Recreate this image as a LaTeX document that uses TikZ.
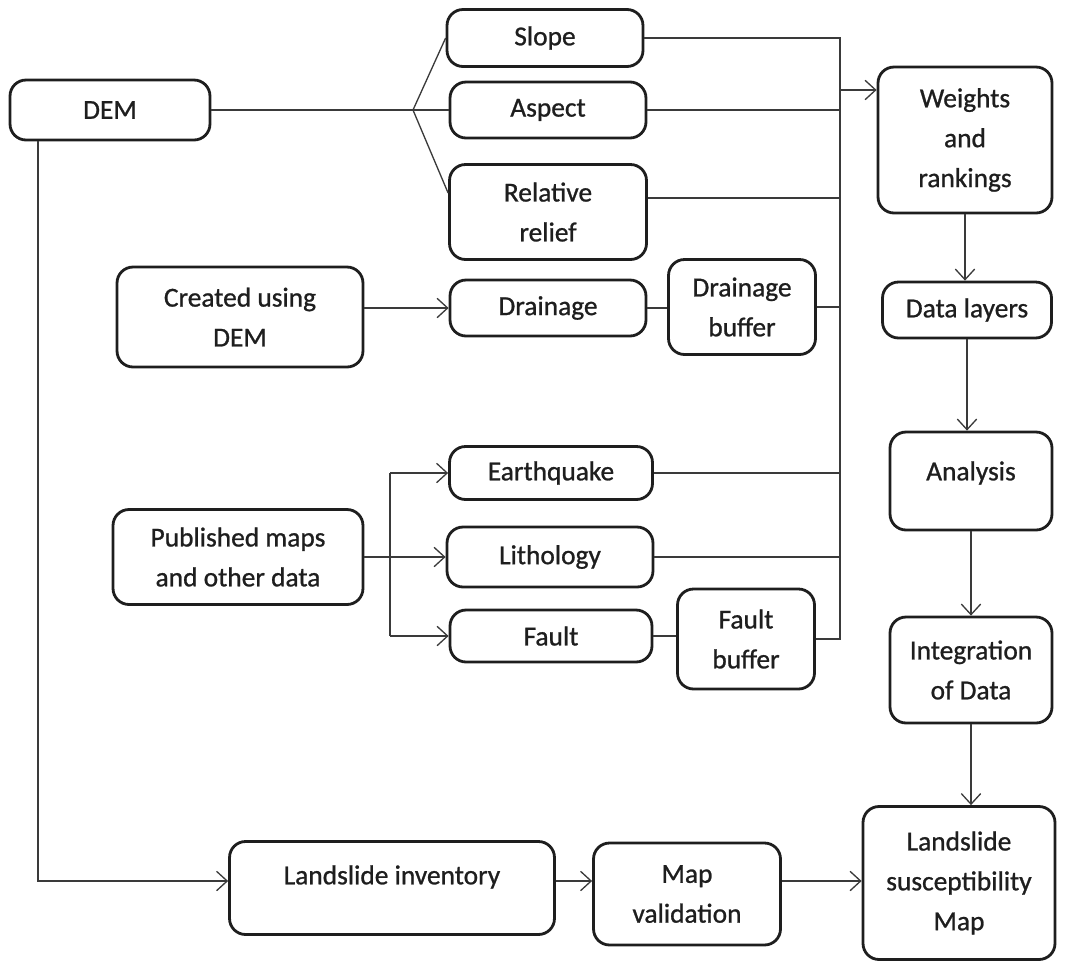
\documentclass[tikz,border=0pt]{standalone}
\usepackage{fontspec}
\setmainfont{Carlito}[FakeBold=0.9]
\usetikzlibrary{arrows.meta,calc}
\definecolor{ink}{HTML}{1E1E1E}
\definecolor{wire}{HTML}{3A3A3A}
\tikzset{
  box/.style={draw=ink, line width=1.6pt, rounded corners=0.32cm, inner sep=0pt,
    align=center, text=ink, font=\fontsize{15.6}{22.7}\selectfont},
  wireline/.style={draw=wire, line width=0.75pt},
  arr/.style={wireline, -{Straight Barb[length=6pt,width=11pt,line width=0.75pt]}},
}
\begin{document}
\begin{tikzpicture}[x=0.02cm,y=-0.02cm]
\useasboundingbox (0,0) rectangle (1075,964);
% nodes
\node[box, minimum width=4.0cm, minimum height=1.2cm] (DEM) at (110,110) {DEM};
\node[box, minimum width=3.92cm, minimum height=1.14cm] (Slope) at (545,38) {Slope};
\node[box, minimum width=3.92cm, minimum height=1.12cm] (Aspect) at (548,110) {Aspect};
\node[box, minimum width=3.94cm, minimum height=1.9cm] (Relief) at (548,212) {Relative\\relief};
\node[box, minimum width=4.92cm, minimum height=2.0cm] (Created) at (240,317) {Created using\\DEM};
\node[box, minimum width=3.92cm, minimum height=1.12cm] (Drainage) at (548,308) {Drainage};
\node[box, minimum width=2.94cm, minimum height=1.9cm] (Dbuffer) at (742,307) {Drainage\\buffer};
\node[box, minimum width=3.48cm, minimum height=2.92cm] (Weights) at (965,140) {Weights\\and\\rankings};
\node[box, minimum width=3.38cm, minimum height=1.12cm] (Data) at (967,310) {Data layers};
\node[box, minimum width=3.24cm, minimum height=1.96cm] (Analysis) at (971,481) {\raisebox{0.16cm}[\height][\depth]{Analysis}};
\node[box, minimum width=3.24cm, minimum height=2.12cm] (Integ) at (971,670) {Integration\\of Data};
\node[box, minimum width=3.84cm, minimum height=3.06cm] (LSM) at (959,883) {Landslide\\susceptibility\\Map};
\node[box, minimum width=4.06cm, minimum height=1.06cm] (Earthquake) at (551,473) {Earthquake};
\node[box, minimum width=4.12cm, minimum height=1.2cm] (Lithology) at (550,557) {Lithology};
\node[box, minimum width=4.04cm, minimum height=1.04cm] (Fault) at (551,636) {Fault};
\node[box, minimum width=2.74cm, minimum height=2.0cm] (Fbuffer) at (746,639) {Fault\\buffer};
\node[box, minimum width=5.0cm, minimum height=1.9cm] (Published) at (238,557) {Published maps\\and other data};
\node[box, minimum width=6.5cm, minimum height=1.86cm] (LInv) at (392,888) {\raisebox{0.22cm}[\height][\depth]{Landslide inventory}};
\node[box, minimum width=3.74cm, minimum height=2.04cm] (MapVal) at (687,894) {Map\\validation};
% helper coordinates
\coordinate (br) at (413,110);
\coordinate (bus) at (840,0);
\coordinate (wa) at (840,90);
\coordinate (pb) at (390,0);
\coordinate (dl) at (38,0);
\coordinate (lm) at (0,881);
% DEM fan
\draw[wireline] (DEM.east) -- (br);
\draw[wireline] (br) -- (Slope.west);
\draw[wireline] (br) -- (Aspect.west);
\draw[wireline] (br) -- ($(Relief.west)+(0,-19)$);
% bus to weights
\draw[wireline] (Slope.east) -- (Slope.east -| bus) -- (Fbuffer.east -| bus) -- (Fbuffer.east);
\draw[wireline] (Aspect.east) -- (Aspect.east -| bus);
\draw[wireline] ($(Relief.east)+(0,-14)$) -- ($(Relief.east -| bus)+(0,-14)$);
\draw[wireline] (Dbuffer.east) -- (Dbuffer.east -| bus);
\draw[wireline] (Earthquake.east) -- (Earthquake.east -| bus);
\draw[wireline] (Lithology.east) -- (Lithology.east -| bus);
\draw[wireline] (Drainage.east) -- (Drainage.east -| Dbuffer.west);
\draw[wireline] (Fault.east) -- (Fault.east -| Fbuffer.west);
\draw[arr] (wa) -- (wa -| Weights.west);
% right column
\draw[arr] (Weights.south) -- (Weights.south |- Data.north);
\draw[arr] (Data.south) -- (Data.south |- Analysis.north);
\draw[arr] (Analysis.south) -- (Analysis.south |- Integ.north);
\draw[arr] (Integ.south) -- (Integ.south |- LSM.north);
% created -> drainage
\draw[arr] (Created.east |- Drainage.west) -- (Drainage.west);
% published fan
\draw[wireline] (Published.east) -- (Published.east -| pb);
\draw[wireline] (Earthquake.west -| pb) -- (Fault.west -| pb);
\draw[arr] (Earthquake.west -| pb) -- (Earthquake.west);
\draw[arr] (Lithology.west -| pb) -- (Lithology.west);
\draw[arr] (Fault.west -| pb) -- (Fault.west);
% DEM -> landslide inventory
\draw[arr] (DEM.south -| dl) -- (lm -| dl) -- (lm -| LInv.west);
\draw[arr] (lm -| LInv.east) -- (lm -| MapVal.west);
\draw[arr] (lm -| MapVal.east) -- (lm -| LSM.west);
\end{tikzpicture}
\end{document}
